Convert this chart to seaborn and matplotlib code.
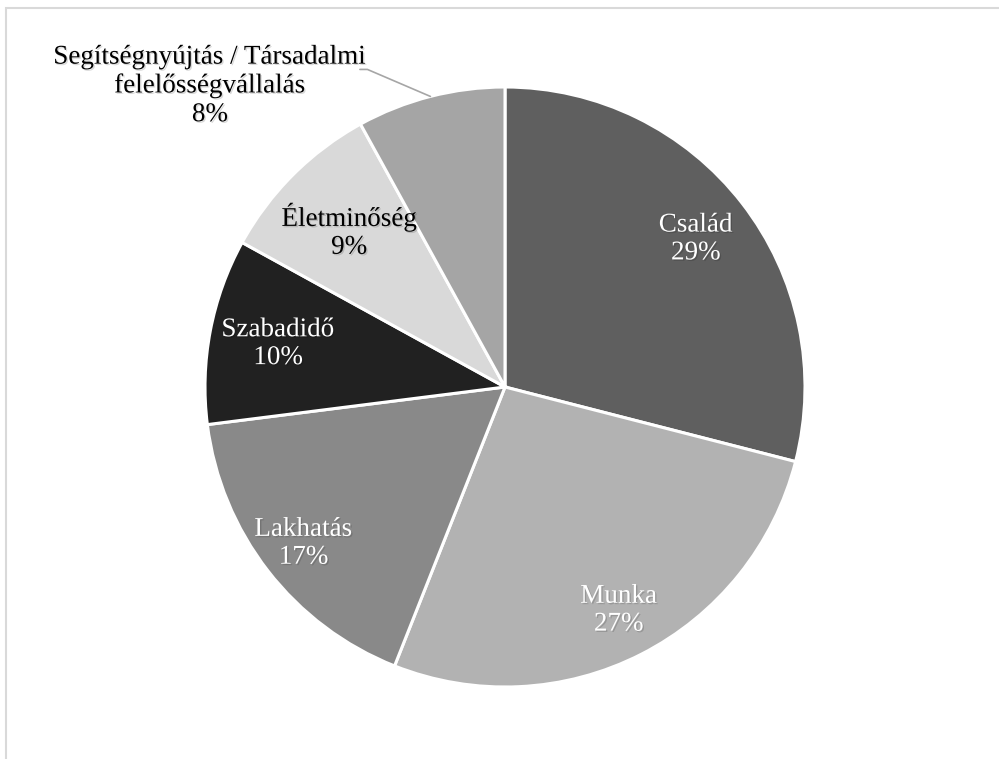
import matplotlib
matplotlib.use("Agg")
import matplotlib.pyplot as plt
import matplotlib.patheffects as pe
import numpy as np
import seaborn as sns

# adatok
kategoriak = ['Család', 'Munka', 'Lakhatás', 'Szabadidő', 'Életminőség',
              'Segítségnyújtás / Társadalmi\nfelelősségvállalás']
ertekek = [29, 27, 17, 10, 9, 8]
szinek = ['#5f5f5f', '#b2b2b2', '#898989', '#212121', '#d9d9d9', '#a5a5a5']
szoveg_szin = ['white', 'white', 'white', 'white', 'black', 'black']
cimke_tav = [0.805, 0.835, 0.85, 0.77, 0.735, None]

sns.set_theme(style='white')
plt.rcParams['font.family'] = ['Liberation Serif', 'DejaVu Serif']

fig = plt.figure(figsize=(9.99, 7.59), dpi=100)
ax = fig.add_axes([205 / 999, 72 / 759, 600 / 999, 600 / 759])

wedges, _ = ax.pie(ertekek, colors=szinek, startangle=90, counterclock=False,
                   radius=1, wedgeprops=dict(edgecolor='white', linewidth=2.2))
ax.set_xlim(-1, 1)
ax.set_ylim(-1, 1)
ax.set_aspect('equal')
ax.axis('off')

arnyek = [pe.SimplePatchShadow(offset=(1, -1), shadow_rgbFace='black', alpha=0.15), pe.Normal()]

for w, nev, v, sz, r in zip(wedges, kategoriak, ertekek, szoveg_szin, cimke_tav):
    szog = np.deg2rad((w.theta1 + w.theta2) / 2)
    if r is not None:
        ax.text(r * np.cos(szog), r * np.sin(szog), f"{nev}\n{v}%", ha='center', va='center',
                color=sz, fontsize=19.5, linespacing=1.15, path_effects=arnyek)
    else:
        # külső címke vezetővonallal
        x0, y0 = np.cos(szog), np.sin(szog)
        xk, yk = x0 - 0.21, y0 + 0.09
        ax.plot([x0, xk, xk - 0.025], [y0, yk, yk], color='#a6a6a6', lw=1.2, clip_on=False)
        ax.text(xk - 0.525, yk - 0.055, f"{nev}\n{v}%", ha='center', va='center',
                color=sz, fontsize=19.5, linespacing=1.2, path_effects=arnyek,
                multialignment='center')

# keret
keret = plt.Rectangle((6 / 999, -0.1), 1.1, 1 - 8 / 759 + 0.1, transform=fig.transFigure,
                      fill=False, edgecolor='#d9d9d9', linewidth=1.5)
fig.patches.append(keret)

fig.savefig("out.png", dpi=100)
